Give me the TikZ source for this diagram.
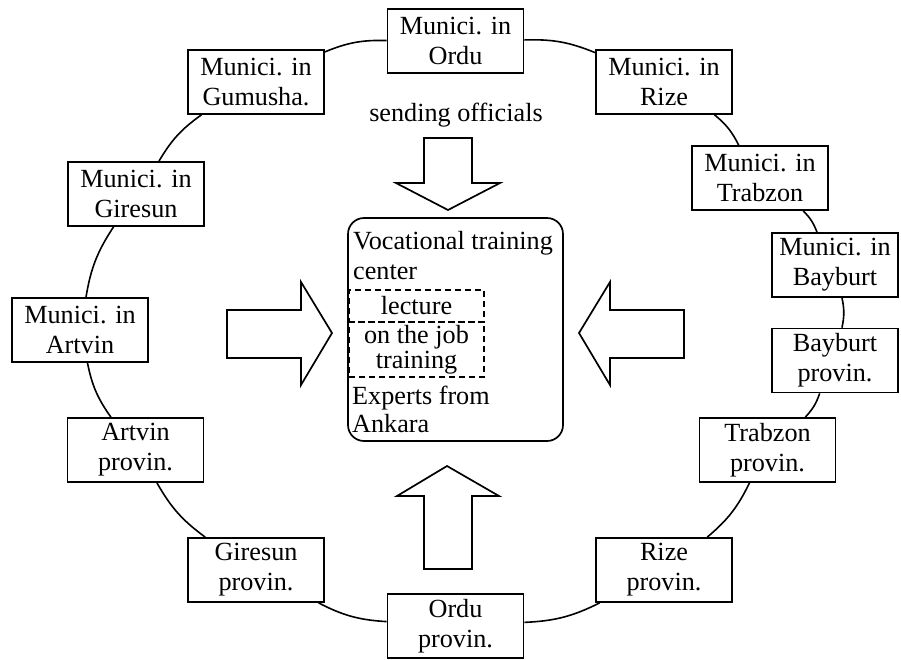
\documentclass[tikz,border=0pt]{standalone}
\usepackage{fontspec}
\setmainfont{Liberation Serif}
\begin{document}
\begin{tikzpicture}[x=1pt,y=-1pt,
  every node/.style={font=\fontsize{26.2}{30}\selectfont},
  unit/.style={draw, fill=white, line width=1.7pt, minimum width=136pt,
    minimum height=64pt, inner sep=0pt, align=center},
  ring/.style={line width=1.6pt, bend left=12},
  blockarrow/.style={draw, line width=1.7pt, line join=miter},
  part/.style={draw, dashed, dash pattern=on 6pt off 4pt, line width=1.6pt,
    minimum width=135pt, inner sep=0pt, align=center},
  plain/.style={anchor=north west, align=left, inner sep=0pt}]
\useasboundingbox (0,0) rectangle (901,659);

% municipalities and provinces around the ring
\node[unit] (mo)  at (455.5,41)  {Munici. in\\Ordu};
\node[unit] (mr)  at (664,82)    {Munici. in\\Rize};
\node[unit] (mt)  at (760,178)   {Munici. in\\Trabzon};
\node[unit, minimum width=126pt] (mb)  at (835,265) {Munici. in\\Bayburt};
\node[unit, minimum width=126pt] (pb)  at (835,360.5) {Bayburt\\provin.};
\node[unit] (pt)  at (767.5,450) {Trabzon\\provin.};
\node[unit] (pr)  at (664,570)   {Rize\\provin.};
\node[unit] (po)  at (455.5,626) {Ordu\\provin.};
\node[unit] (pg)  at (256,570)   {Giresun\\provin.};
\node[unit] (pa)  at (135.5,450) {Artvin\\provin.};
\node[unit] (ma)  at (80,330)    {Munici. in\\Artvin};
\node[unit] (mg)  at (136,194)   {Munici. in\\Giresun};
\node[unit] (mgu) at (256,82)    {Munici. in\\Gumusha.};

\foreach \a/\b in {mo/mr, mr/mt, mt/mb, mb/pb, pb/pt, pt/pr, pr/po,
                   po/pg, pg/pa, pa/ma, ma/mg, mg/mgu, mgu/mo}
  \draw[ring] (\a) to (\b);

% training center
\node[draw, rounded corners=16pt, line width=1.7pt, minimum width=215pt,
      minimum height=223pt] (vtc) at (455.5,329.5) {};
\node[plain] (vtctitle) at (353,231.5) {Vocational training\\center};
\node[part, minimum height=32pt] (lect) at (416.5,306) {lecture};
\node[part, minimum height=55pt,
      font=\fontsize{26.2}{25}\selectfont] (ojt) at (416.5,349.5) {on the job\\training};
\node[plain, font=\fontsize{26.2}{28}\selectfont] (experts) at (352,385.5) {Experts from\\Ankara};

\node[inner sep=0pt] (send) at (456,115) {sending officials};

% block arrows pointing to the center
\draw[blockarrow] (424,138) -- (472,138) -- (472,183) -- (500,183) -- (448,210)
  -- (396,183) -- (424,183) -- cycle;
\draw[blockarrow] (424,569) -- (472,569) -- (472,496) -- (499,496) -- (447,466)
  -- (397,496) -- (424,496) -- cycle;
\draw[blockarrow] (227,310) -- (301,310) -- (301,282) -- (332,333) -- (301,385)
  -- (301,358) -- (227,358) -- cycle;
\draw[blockarrow] (684,310) -- (610,310) -- (610,282) -- (579,333) -- (610,385)
  -- (610,358) -- (684,358) -- cycle;
\end{tikzpicture}
\end{document}
